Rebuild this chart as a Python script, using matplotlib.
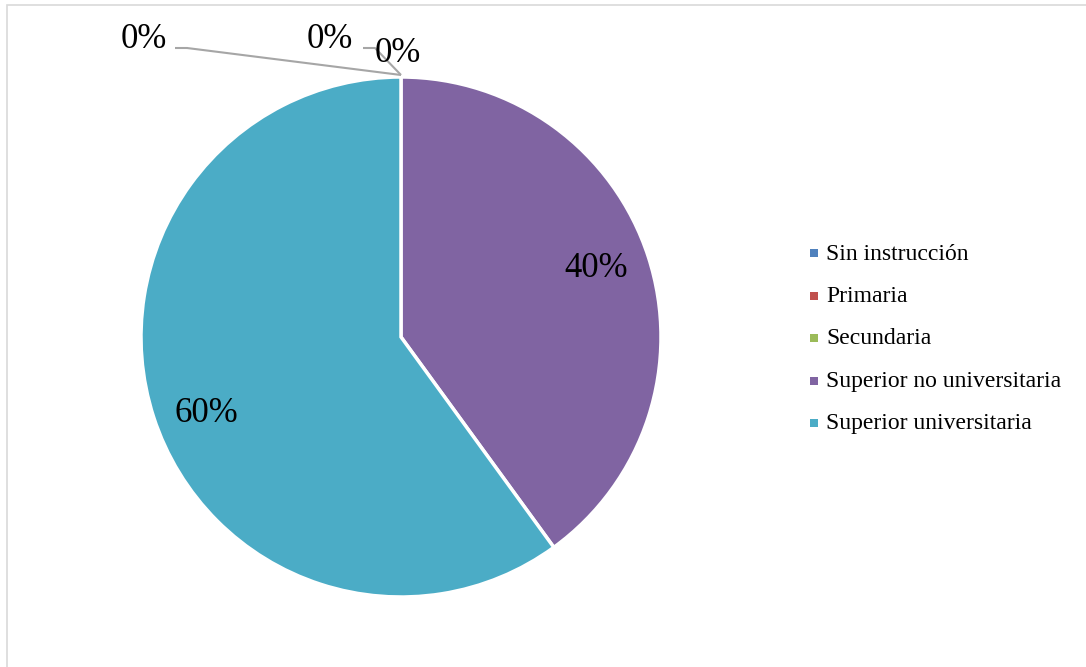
import numpy as np
import matplotlib.pyplot as plt
from matplotlib.patches import Rectangle

plt.rcParams['font.family'] = ['Liberation Serif', 'DejaVu Serif']

categories = ["Sin instrucción", "Primaria", "Secundaria",
              "Superior no universitaria", "Superior universitaria"]
values = [0, 0, 0, 40, 60]
colors = ["#4F81BD", "#C0504D", "#9BBB59", "#8064A2", "#4BACC6"]

W, H = 1086, 667
fig = plt.figure(figsize=(W / 100, H / 100), dpi=100)
ax = fig.add_axes([0, 0, 1, 1])

cx, cy, r = 401, H - 337, 260
total = sum(values)
wedges, _ = ax.pie(values, colors=colors, startangle=90, counterclock=False,
                   center=(cx, cy), radius=r, frame=True,
                   wedgeprops=dict(edgecolor="white", linewidth=2.5))
ax.set_xlim(0, W)
ax.set_ylim(0, H)
ax.set_aspect('equal')
ax.axis('off')

# chart frame (only top and left edges fall inside the image)
ax.add_patch(Rectangle((7, -20), W + 40, H - 5 + 20, fill=False,
                       edgecolor="#d9d9d9", lw=1.2))

# percentage labels
pct = [f"{round(100 * v / total)}%" for v in values]
fs = 25
# non-zero slices: label inside the wedge
cum = 0
for v, t in zip(values, pct):
    mid = 90 - 360 * (cum + v / 2) / total + 2.5
    cum += v
    if v > 0:
        rr = 0.8 * r
        ax.text(cx + rr * np.cos(np.radians(mid)),
                cy + rr * np.sin(np.radians(mid)) - 4,
                t, fontsize=fs, ha='center', va='center', color='black')

# zero slices: labels above the pie with leader lines to the top point
top = (cx, cy + r + 2)
zero_labels = [(t, v) for t, v in zip(pct, values) if v == 0]
label_pos = [(144, H - 40), (330, H - 40), (398, H - 53)]
line_starts = [(175, H - 48), (363, H - 48), None]
for (t, v), (lx, ly), ls in zip(zero_labels, label_pos, line_starts):
    ax.text(lx, ly, t, fontsize=fs, ha='center', va='center', color='black')
    if ls is not None:
        ax.plot([ls[0], ls[0] + 12, top[0]], [ls[1], ls[1], top[1]],
                color="#a6a6a6", lw=1.5, solid_capstyle='butt')

# legend
lx0, ly0, step = 814, H - 253, 42.5
for i, (c, lab) in enumerate(zip(colors, categories)):
    y = ly0 - i * step
    ax.scatter([lx0], [y], marker='s', s=30, color=c, linewidths=0)
    ax.text(lx0 + 12, y - 1, lab, fontsize=17, ha='left', va='center',
            color='black')

fig.savefig("out.png", dpi=100, facecolor='white')
